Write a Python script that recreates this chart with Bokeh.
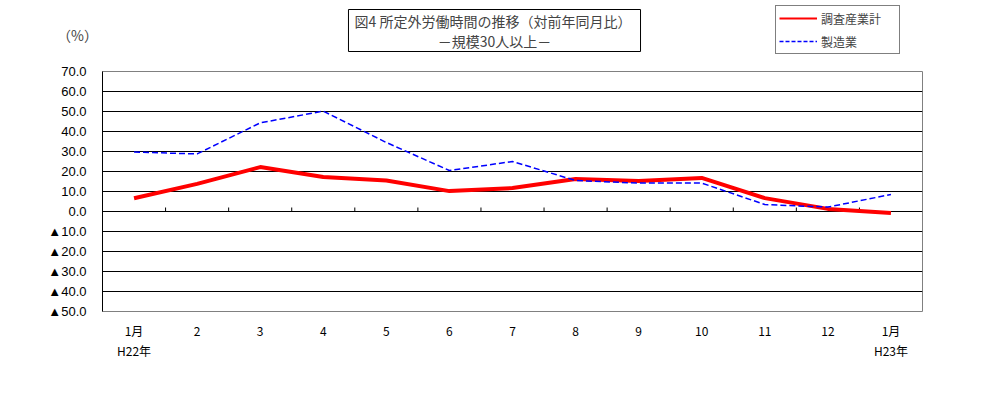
from bokeh.plotting import figure
from bokeh.layouts import column
from bokeh.models import Range1d, FixedTicker, Label, Legend, LegendItem, ColumnDataSource
from bokeh.embed import file_html
from bokeh.resources import INLINE

# ---- data ----
months = ["1月", "2", "3", "4", "5", "6", "7", "8", "9", "10", "11", "12", "1月"]
years = ["H22年", "", "", "", "", "", "", "", "", "", "", "", "H23年"]
all_industries = [6.6, 13.8, 22.2, 17.2, 15.5, 10.2, 11.7, 16.3, 15.2, 16.8, 6.7, 1.3, -0.8]
manufacturing = [29.7, 28.8, 44.3, 50.2, 34.5, 20.5, 25.0, 15.5, 14.2, 14.2, 3.5, 2.2, 8.5]
series_names = ["調査産業計", "製造業"]
y_ticks = list(range(-50, 80, 10))
title_lines = ["図4  所定外労働時間の推移（対前年同月比）", "－規模30人以上－"]
unit_label = "（%）"

CJK = "Noto Sans CJK JP"
W = 985
HEAD_H = 60
n = len(months)
xs = [i + 0.5 for i in range(n)]

# ---------- header (title box, legend, unit) ----------
h = figure(width=W, height=HEAD_H, output_backend="svg", toolbar_location=None,
           x_range=Range1d(0, W), y_range=Range1d(HEAD_H, 0),
           x_axis_type=None, y_axis_type=None, min_border=0)
h.frame_align = False
h.outline_line_color = None
h.grid.grid_line_color = None
h.background_fill_color = "white"
h.border_fill_color = "white"

title_text = "\n".join(title_lines)
for off, alpha in [(2, 0.0), (0, 1.0)]:
    h.add_layout(Label(x=494, y=30, x_offset=off, y_offset=-off, text=title_text,
                       text_align="center", text_baseline="middle",
                       text_font=CJK, text_font_size="14px", text_alpha=alpha,
                       text_line_height=1.0,
                       border_line_color="black", border_line_width=1,
                       background_fill_color="white", padding=dict(x=6, y=1)))

h.add_layout(Label(x=77, y=34, text=unit_label, text_align="center", text_baseline="middle",
                   text_font=CJK, text_font_size="14px"))

# legend sample renderers (kept outside the visible header range)
r1 = h.line(x=[-100, -50], y=[-100, -100], line_color="#FF0000", line_width=2)
r2 = h.line(x=[-100, -50], y=[-100, -100], line_color="#0000FF", line_width=1.5, line_dash="4 2")
legend = Legend(items=[LegendItem(label=series_names[0], renderers=[r1]),
                       LegendItem(label=series_names[1], renderers=[r2])],
                location=(775, 6), orientation="vertical")
legend.border_line_color = "black"
legend.border_line_width = 1
legend.background_fill_color = "white"
legend.background_fill_alpha = 1
legend.padding = 3
legend.spacing = 5
legend.margin = 0
legend.glyph_width = 38
legend.glyph_height = 18
legend.label_height = 18
legend.label_width = 75
legend.label_standoff = 4
legend.label_text_font = CJK
legend.label_text_font_size = "12px"
h.add_layout(legend, "center")

# ---------- main chart ----------
p = figure(width=W, height=391 - HEAD_H, output_backend="svg", toolbar_location=None,
           x_range=Range1d(0, n), y_range=Range1d(-50, 70),
           min_border_left=102, min_border_right=W - 922,
           min_border_top=71 - HEAD_H, min_border_bottom=391 - 311)
p.frame_align = False
p.background_fill_color = "white"
p.border_fill_color = "white"
p.outline_line_color = "#808080"
p.outline_line_width = 1

p.yaxis.ticker = FixedTicker(ticks=y_ticks)
p.yaxis.major_label_overrides = {v: ("▲" + f"{abs(v):.1f}" if v < 0 else f"{v:.1f}") for v in y_ticks}
p.yaxis.major_tick_line_color = None
p.yaxis.minor_tick_line_color = None
p.yaxis.axis_line_color = "black"
p.yaxis.major_label_standoff = 10
p.yaxis.major_label_text_font = "Liberation Sans"
p.yaxis.major_label_text_font_size = "13px"
p.yaxis.major_label_text_color = "black"

p.xaxis.ticker = FixedTicker(ticks=xs)
p.xaxis.major_label_overrides = {x: (m + ("\n" + y if y else "")) for x, m, y in zip(xs, months, years)}
p.xaxis.major_tick_line_color = None
p.xaxis.minor_tick_line_color = None
p.xaxis.axis_line_color = None
p.xaxis.major_label_standoff = 4
p.xaxis.major_label_text_font = CJK
p.xaxis.major_label_text_font_size = "12px"
p.xaxis.major_label_text_color = "black"

p.xgrid.grid_line_color = None
p.ygrid.ticker = FixedTicker(ticks=[v for v in y_ticks if -50 < v < 70])
p.ygrid.grid_line_color = "black"
p.ygrid.grid_line_width = 1

# category boundary ticks on the zero line
bounds = list(range(1, n))
p.segment(x0=bounds, y0=[0] * len(bounds), x1=bounds, y1=[2] * len(bounds),
          line_color="black", line_width=1)

src = ColumnDataSource(dict(x=xs, a=all_industries, m=manufacturing))
p.line("x", "a", source=src, line_color="#FF0000", line_width=4)
p.line("x", "m", source=src, line_color="#0000FF", line_width=1.5, line_dash="6 3")

layout = column(h, p, spacing=0)
open("out.html", "w").write(file_html(layout, INLINE))
